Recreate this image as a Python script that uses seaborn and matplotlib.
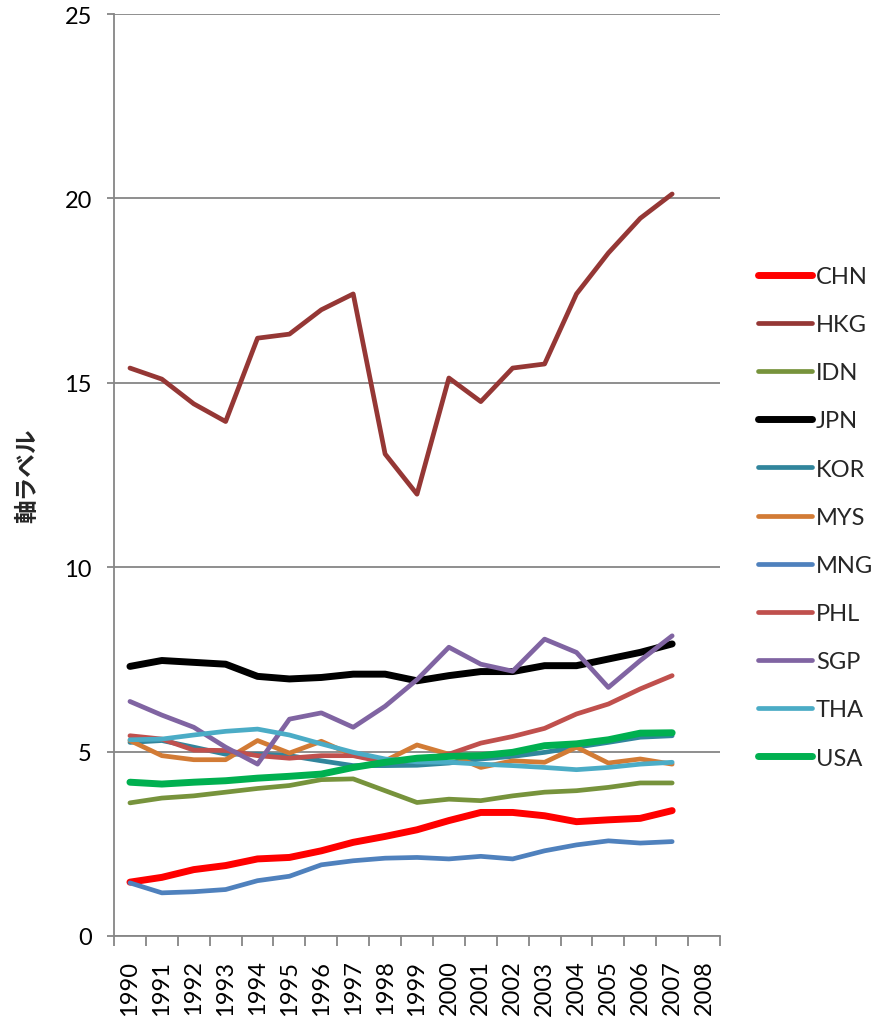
import matplotlib
matplotlib.use("Agg")
import matplotlib.pyplot as plt
import numpy as np
import pandas as pd
import seaborn as sns

# categories on the x axis (2008 has no data)
years = [str(y) for y in range(1990, 2009)]
data_years = years[:-1]

countries = ["CHN", "HKG", "IDN", "JPN", "KOR", "MYS", "MNG", "PHL", "SGP", "THA", "USA"]

chn = [1.46, 1.59, 1.80, 1.91, 2.09, 2.13, 2.31, 2.54, 2.70, 2.88, 3.13, 3.35, 3.35, 3.26, 3.10, 3.15, 3.19, 3.40]
hkg = [15.40, 15.10, 14.43, 13.95, 16.21, 16.32, 16.98, 17.41, 13.07, 11.98, 15.13, 14.49, 15.40, 15.51, 17.41, 18.52, 19.46, 20.12]
idn = [3.61, 3.74, 3.80, 3.90, 4.00, 4.08, 4.24, 4.26, 3.94, 3.62, 3.71, 3.67, 3.80, 3.90, 3.94, 4.03, 4.15, 4.15]
jpn = [7.31, 7.47, 7.42, 7.37, 7.04, 6.97, 7.01, 7.10, 7.10, 6.92, 7.06, 7.17, 7.17, 7.33, 7.33, 7.51, 7.69, 7.92]
kor = [5.25, 5.30, 5.12, 4.93, 4.93, 4.89, 4.75, 4.62, 4.62, 4.63, 4.69, 4.80, 4.87, 4.98, 5.12, 5.25, 5.39, 5.43]
mys = [5.30, 4.89, 4.78, 4.78, 5.30, 4.96, 5.28, 4.90, 4.75, 5.18, 4.93, 4.57, 4.75, 4.71, 5.12, 4.69, 4.80, 4.66]
mng = [1.44, 1.17, 1.20, 1.26, 1.50, 1.62, 1.93, 2.04, 2.11, 2.13, 2.09, 2.16, 2.09, 2.31, 2.47, 2.58, 2.52, 2.56]
phl = [5.43, 5.34, 5.04, 5.03, 4.89, 4.82, 4.89, 4.89, 4.71, 4.78, 4.93, 5.23, 5.41, 5.63, 6.02, 6.29, 6.70, 7.06]
sgp = [6.36, 5.99, 5.66, 5.12, 4.66, 5.88, 6.05, 5.66, 6.23, 6.95, 7.83, 7.37, 7.18, 8.05, 7.69, 6.74, 7.47, 8.14]
tha = [5.32, 5.34, 5.45, 5.55, 5.61, 5.45, 5.21, 4.98, 4.80, 4.72, 4.71, 4.66, 4.62, 4.57, 4.51, 4.57, 4.66, 4.71]
usa = [4.17, 4.12, 4.17, 4.21, 4.28, 4.33, 4.39, 4.57, 4.71, 4.82, 4.87, 4.89, 4.98, 5.16, 5.21, 5.32, 5.50, 5.51]

series = [chn, hkg, idn, jpn, kor, mys, mng, phl, sgp, tha, usa]

colors = ["#FF0000", "#953735", "#77933C", "#000000", "#31859C", "#D27B35",
          "#4F81BD", "#C0504D", "#8064A2", "#4BACC6", "#00B050"]
thick = ["CHN", "JPN", "USA"]

sns.set_style("white")
plt.rcParams['font.family'] = ['Lato', 'Noto Sans CJK JP', 'DejaVu Sans']

fig = plt.figure(figsize=(8.83, 10.2), dpi=100)
ax = fig.add_axes([114 / 883, 1 - 937 / 1020, (720 - 114) / 883, (937 - 15) / 1020])

for name, vals, col in zip(countries, series, colors):
    df = pd.DataFrame({"x": np.arange(len(data_years)), "y": vals})
    lw = 5.0 if name in thick else 3.4
    sns.lineplot(data=df, x="x", y="y", ax=ax, color=col, linewidth=lw,
                 label=name, solid_capstyle="round", solid_joinstyle="round")

grid_col = "#868686"
ax.set_ylim(0, 25)
ax.set_yticks([0, 5, 10, 15, 20, 25])
ax.set_xlim(-0.5, len(years) - 0.5)
ax.set_xticks(np.arange(len(years)))
ax.set_xticklabels(years, rotation=90)
ax.set_xticks(np.arange(len(years) + 1) - 0.5, minor=True)
ax.tick_params(axis="x", which="major", length=0, pad=17, labelsize=17, labelcolor="black")
ax.tick_params(axis="x", which="minor", length=7, width=1.3, color=grid_col, direction="out", bottom=True)
ax.tick_params(axis="y", length=5, width=1.3, color=grid_col, direction="out", pad=11,
               labelsize=17, labelcolor="black", left=True)
ax.yaxis.grid(True, color=grid_col, linewidth=1.3)
ax.set_axisbelow(True)
for s in ["top", "right"]:
    ax.spines[s].set_visible(False)
for s in ["left", "bottom"]:
    ax.spines[s].set_color(grid_col)
    ax.spines[s].set_linewidth(1.3)

ax.set_xlabel("")
ax.set_ylabel("軸ラベル", fontsize=17, fontweight="bold", labelpad=18,
              family=["Noto Sans CJK JP", "DejaVu Sans"])

handles, labels = ax.get_legend_handles_labels()
ax.legend(handles, labels, loc="upper left", bbox_to_anchor=(758 / 883, 1 - 267 / 1020),
          bbox_transform=fig.transFigure, frameon=False, fontsize=17,
          handlelength=2.3, handletextpad=0.15, labelspacing=1.15,
          borderpad=0, borderaxespad=0)

fig.savefig("out.png", dpi=100)
